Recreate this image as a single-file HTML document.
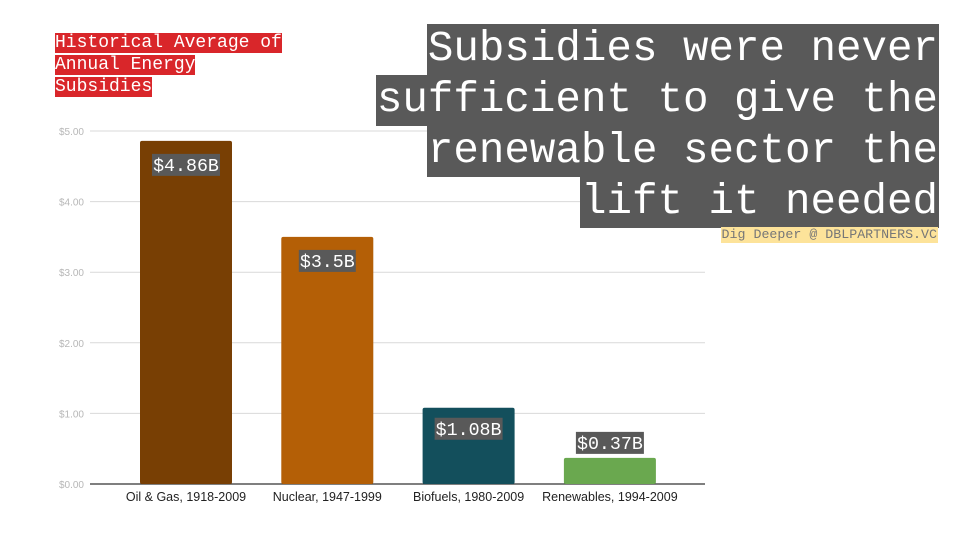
<!DOCTYPE html>
<html><head><meta charset="utf-8"><style>
body{margin:0;width:960px;height:540px;background:#fff;position:relative;overflow:hidden;font-family:"Liberation Sans",sans-serif}
.mono{font-family:"Liberation Mono",monospace}
#title{position:absolute;left:55px;top:32px;font-size:18px;line-height:22px;color:#fff}
#title span{background:#d9262a}
#head{position:absolute;right:21px;top:24px;text-align:right;font-size:42.5px;line-height:51px;color:#fff}
#head span{background:#595959;display:inline-block;padding:0 1px}
#foot{position:absolute;right:22px;top:227px;font-size:13.3px;line-height:16px;background:#fde39a;color:#777;padding:0 1px}
</style></head><body>
<div id="title" class="mono"><span>Historical Average of</span><br><span>Annual Energy</span><br><span>Subsidies</span></div>
<svg id="chart" width="960" height="540" style="position:absolute;left:0;top:0"></svg>
<div id="head" class="mono"><span>Subsidies were never</span><br><span>sufficient to give the</span><br><span>renewable sector the</span><br><span>lift it needed</span></div>
<div id="foot" class="mono">Dig Deeper @ DBLPARTNERS.VC</div>
<script>
const categories=["Oil & Gas, 1918-2009","Nuclear, 1947-1999","Biofuels, 1980-2009","Renewables, 1994-2009"];
const values=[4.86,3.5,1.08,0.37];
const valueLabels=["$4.86B","$3.5B","$1.08B","$0.37B"];
const colors=["#783f04","#b45f06","#134f5c","#6aa84f"];
const ticks=[0,1,2,3,4,5];
const tickLabels=["$0.00","$1.00","$2.00","$3.00","$4.00","$5.00"];
const svg=document.getElementById('chart');const NS='http://www.w3.org/2000/svg';
const y=v=>484-v*70.6;
const x=i=>186+i*141.3;
function mk(t,a){const e=document.createElementNS(NS,t);for(const k in a)e.setAttribute(k,a[k]);svg.appendChild(e);return e;}
ticks.forEach((t,i)=>{
 const l=mk('line',{x1:90,x2:705,y1:y(t),y2:y(t),stroke:i==0?'#333':'#d9d9d9','stroke-width':i==0?1.2:1});
 
 
 const tx=mk('text',{x:84,y:y(t)+4,'text-anchor':'end','font-size':10,fill:'#b7b7b7'});tx.textContent=tickLabels[i];
 
 
});
values.forEach((v,i)=>{
 const r=mk('rect',{x:x(i)-46,y:y(v),width:92,height:484-y(v),fill:colors[i],rx:2});
 
 
 const lab=mk('text',{x:x(i),y:501,'text-anchor':'middle','font-size':12.5,fill:'#222'});lab.textContent=categories[i];
 
 
 const txt=valueLabels[i];const w=txt.length*11+2;
 const ly=v>1.5?y(v)+13:(v>0.8?y(v)+10:y(v)-26);
 const bg=mk('rect',{x:x(i)-w/2,y:ly,width:w,height:22,fill:'#595959'});
 
 
 const t=mk('text',{x:x(i),y:ly+17,'text-anchor':'middle','font-size':18.3,fill:'#fff','font-family':'Liberation Mono, monospace'});t.textContent=txt;
 
 
});
</script>
</body></html>
